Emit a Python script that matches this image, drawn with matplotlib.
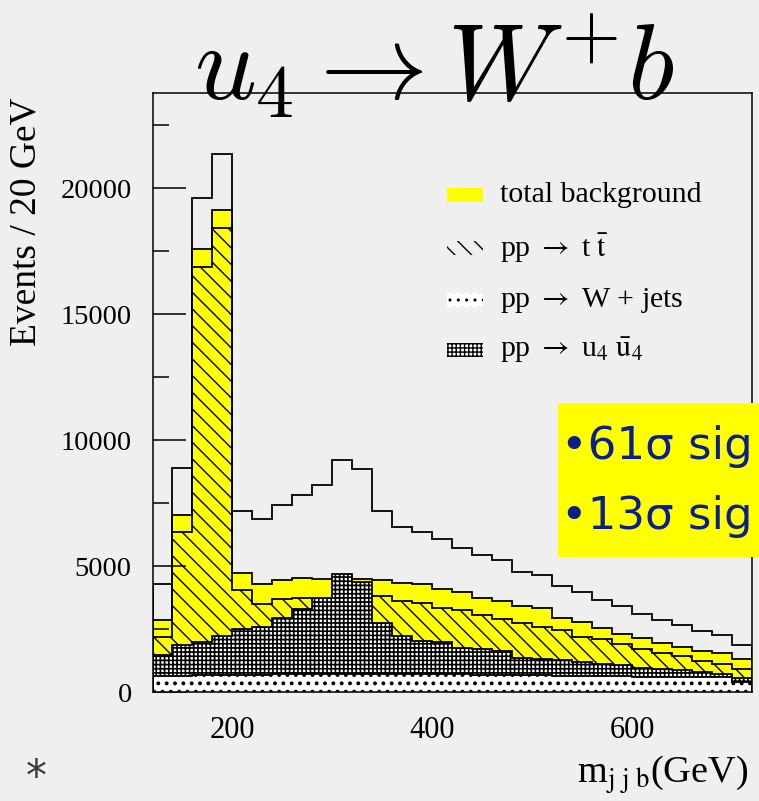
import numpy as np
import matplotlib
matplotlib.use("Agg")
import matplotlib.pyplot as plt
from matplotlib.patches import Rectangle

# ---------------- data ----------------
bin_edges = np.arange(120, 740, 20)  # m_jjb bins, GeV

total_background = [2843, 7034, 17611, 19140, 4712, 4292, 4462, 4526, 4489, 4522,
                    4500, 4450, 4340, 4300, 4077, 3982, 3720, 3613, 3414, 3325,
                    2950, 2780, 2553, 2315, 2132, 1957, 1787, 1628, 1560, 1298]
ttbar = [2184, 6352, 16873, 18429, 4037, 3481, 3680, 3745, 3700, 3750,
         3800, 3811, 3613, 3546, 3322, 3242, 3057, 2886, 2751, 2600,
         2449, 2184, 2091, 1893, 1695, 1560, 1429, 1231, 1099, 901]
wjets = [640, 650, 660, 670, 680, 690, 700, 710, 720, 730,
         730, 725, 720, 715, 710, 700, 690, 680, 670, 660,
         650, 640, 630, 620, 610, 600, 595, 590, 585, 400]
signal_u4u4 = [1457, 1866, 1997, 2223, 2489, 2580, 2950, 3283, 3745, 4672,
               4361, 2728, 2223, 2040, 1984, 1748, 1706, 1627, 1363, 1320,
               1258, 1180, 1099, 1090, 965, 901, 861, 794, 703, 568]

y_major = [0, 5000, 10000, 15000, 20000]
y_minor = [2500, 7500, 12500, 17500, 22500]
x_major = [200, 400, 600]

legend_labels = ["total background",
                 r"pp $\rightarrow$ t $\bar{\mathrm{t}}$",
                 r"pp $\rightarrow$ W + jets",
                 r"pp $\rightarrow$ u$_4$ $\bar{\mathrm{u}}_4$"]
title_text = r"$u_4 \rightarrow W^{+}b$"
box_lines = ["\u202261\u03c3 sig", "\u202213\u03c3 sig"]

# ---------------- style ----------------
SERIF = ["Liberation Serif", "DejaVu Serif"]
BG = "#efefef"
YELLOW = "#ffff00"
BLUE = "#0b1f8c"
LW = 1.3

plt.rcParams["hatch.linewidth"] = 1.0

W, H = 759, 801
fig = plt.figure(figsize=(W / 100, H / 100), dpi=100, facecolor=BG)


def fx(px):
    return px / W


def fy(py):
    return 1 - py / H


ax_left, ax_right, ax_top, ax_bot = 152.5, 752.0, 92.7, 692.0
ax = fig.add_axes([fx(ax_left), fy(ax_bot), fx(ax_right - ax_left), (ax_bot - ax_top) / H])
ax.set_facecolor("none")
ax.set_xlim(bin_edges[0], bin_edges[-1])
ax.set_ylim(0, 23800)


def set_hlw(p, v):
    if hasattr(p, "set_hatch_linewidth"):
        p.set_hatch_linewidth(v)


total_with_signal = np.array(total_background) + np.array(signal_u4u4)

p1 = ax.stairs(total_background, bin_edges, fill=True, facecolor=YELLOW,
               edgecolor="black", linewidth=LW, zorder=1)
p2 = ax.stairs(ttbar, bin_edges, fill=True, facecolor="none", hatch="\\\\",
               edgecolor="black", linewidth=LW, zorder=2)
set_hlw(p2, 1.0)
p3 = ax.stairs(signal_u4u4, bin_edges, fill=True, facecolor="white", hatch="++++",
               edgecolor="black", linewidth=LW, zorder=3)
set_hlw(p3, 1.2)
p4 = ax.stairs(wjets, bin_edges, fill=True, facecolor="white", hatch="..",
               edgecolor="black", linewidth=LW, zorder=4)
set_hlw(p4, 1.6)
p5 = ax.stairs(total_with_signal, bin_edges, fill=False, edgecolor="black",
               linewidth=LW, zorder=5)

# axes / ticks
for s in ax.spines.values():
    s.set_linewidth(1.1)
    s.set_zorder(10)
ax.set_yticks(y_major)
ax.set_yticks(y_minor, minor=True)
ax.set_xticks(x_major)
ax.tick_params(axis="y", which="major", direction="in", length=24, width=1.1,
               pad=15, labelsize=20.5)
ax.tick_params(axis="y", which="minor", direction="in", length=11.5, width=1.1)
ax.tick_params(axis="x", which="both", length=0, pad=17, labelsize=22)
for lab in ax.get_yticklabels() + ax.get_xticklabels():
    lab.set_family(SERIF)

# legend (drawn by hand, ROOT style)
leg_rows = [0.829, 0.741, 0.654, 0.571]
leg_x0, leg_w, leg_h = 0.491, 0.06, 0.024
leg_styles = [dict(facecolor=YELLOW, edgecolor="none"),
              dict(facecolor="none", edgecolor="black", hatch="\\\\", linewidth=0),
              dict(facecolor="white", edgecolor="black", hatch="..", linewidth=0),
              dict(facecolor="white", edgecolor="black", hatch="++++", linewidth=0)]
for yc, lab, st in zip(leg_rows, legend_labels, leg_styles):
    r = Rectangle((leg_x0, yc - leg_h / 2), leg_w, leg_h, transform=ax.transAxes,
                  zorder=6, **st)
    ax.add_patch(r)
    ax.text(0.579, yc, lab, transform=ax.transAxes, va="center", ha="left",
            fontsize=21.5, family=SERIF, math_fontfamily="stix", zorder=6)

# labels
fig.text(fx(26), fy(222), "Events / 20 GeV", rotation=90, ha="center", va="center",
         fontsize=27, family=SERIF)
fig.text(fx(748), fy(783), r"m$_{\mathrm{j\,\,j\,\,b}}$(GeV)", ha="right", va="baseline",
         fontsize=27.5, family=SERIF, math_fontfamily="stix")
fig.text(fx(434), fy(100), title_text, ha="center", va="baseline", fontsize=78,
         math_fontfamily="cm")

# yellow significance box
box = Rectangle((fx(558), fy(557)), 0.4, (557 - 403) / H, transform=fig.transFigure,
                facecolor=YELLOW, edgecolor="none", zorder=20)
fig.add_artist(box)
fig.text(fx(561), fy(447), box_lines[0], ha="left", va="center", fontsize=32.5,
         color=BLUE, family=["DejaVu Sans"], zorder=21)
fig.text(fx(561), fy(516), box_lines[1], ha="left", va="center", fontsize=32.5,
         color=BLUE, family=["DejaVu Sans"], zorder=21)

# asterisk at bottom-left
fig.text(fx(36), fy(799), "*", ha="center", va="bottom", fontsize=30, color="#3a3a3a",
         family=["DejaVu Sans"])

fig.savefig("out.png", dpi=100, facecolor=BG)
